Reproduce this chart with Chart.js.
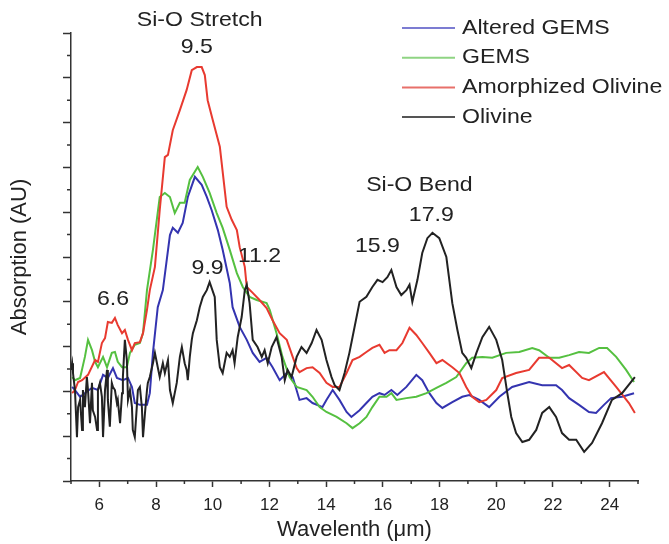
<!DOCTYPE html>
<html>
<head>
<meta charset="utf-8">
<script src="https://cdn.jsdelivr.net/npm/chart.js@4"></script>
<style>
  html, body { margin: 0; padding: 0; background: #fff; }
  #wrap { width: 669px; height: 544px; }
</style>
</head>
<body>
<div id="wrap"><canvas id="myChart" width="669" height="544"></canvas></div>
<script>
// Spectra: [wavelength (um), absorption (AU)]
const alteredGems = [
  [5.04, 2.10], [5.14, 2.03], [5.32, 1.88], [5.49, 1.96], [5.74, 2.08], [5.95, 2.03], [6.13, 2.37],
  [6.30, 2.30], [6.48, 2.52], [6.62, 2.30], [6.83, 2.25], [7.01, 2.30], [7.15, 2.10], [7.25, 1.74],
  [7.43, 1.70], [7.68, 1.70], [7.78, 1.96], [7.89, 2.86], [8.06, 3.88], [8.24, 4.26], [8.49, 5.49],
  [8.59, 5.65], [8.77, 5.54], [8.94, 5.76], [9.12, 6.34], [9.37, 6.79], [9.61, 6.61], [9.79, 6.34],
  [9.96, 6.05], [10.18, 5.60], [10.35, 5.16], [10.60, 4.42], [10.70, 3.88], [10.95, 3.44], [11.20, 3.15],
  [11.41, 2.86], [11.65, 2.66], [11.90, 2.75], [12.11, 2.54], [12.36, 2.25], [12.61, 2.41], [12.82, 2.32],
  [13.06, 1.81], [13.31, 1.85], [13.52, 1.74], [13.87, 1.65], [14.01, 1.81], [14.23, 2.03], [14.47, 1.81],
  [14.72, 1.54], [14.89, 1.43], [15.18, 1.58], [15.42, 1.74], [15.63, 1.88], [15.88, 1.96], [16.06, 1.92],
  [16.30, 2.03], [16.51, 1.92], [16.83, 2.10], [17.18, 2.37], [17.39, 2.25], [17.64, 1.96], [17.89, 1.74],
  [18.10, 1.63], [18.45, 1.76], [18.80, 1.88], [19.05, 1.92], [19.40, 1.81], [19.75, 1.65], [20.11, 1.88],
  [20.56, 2.10], [21.16, 2.21], [21.62, 2.14], [22.11, 2.14], [22.32, 2.03], [22.57, 1.85], [22.92, 1.70],
  [23.27, 1.54], [23.52, 1.52], [23.80, 1.70], [24.05, 1.85], [24.44, 1.88], [24.86, 1.96]
];

const gems = [
  [5.04, 2.32], [5.14, 2.25], [5.32, 2.30], [5.49, 2.77], [5.60, 3.15], [5.74, 2.92], [5.85, 2.66],
  [5.95, 2.54], [6.13, 2.77], [6.27, 2.54], [6.44, 2.86], [6.55, 2.88], [6.65, 2.66], [6.80, 2.54],
  [6.97, 2.54], [7.08, 2.86], [7.25, 3.04], [7.43, 3.08], [7.54, 3.30], [7.68, 4.26], [7.89, 5.16],
  [8.13, 6.34], [8.31, 6.43], [8.49, 6.34], [8.66, 5.98], [8.84, 6.21], [9.01, 6.21], [9.19, 6.72],
  [9.47, 7.01], [9.65, 6.79], [9.89, 6.43], [10.14, 5.98], [10.35, 5.65], [10.60, 5.16], [10.85, 4.64],
  [11.06, 4.33], [11.30, 4.11], [11.55, 4.04], [11.90, 3.97], [12.01, 3.82], [12.25, 3.30], [12.46, 2.77],
  [12.71, 2.32], [12.96, 2.10], [13.31, 2.03], [13.52, 1.88], [13.77, 1.65], [14.01, 1.54], [14.37, 1.43],
  [14.72, 1.29], [14.93, 1.18], [15.18, 1.29], [15.42, 1.43], [15.63, 1.65], [15.88, 1.88], [16.13, 1.88],
  [16.30, 1.96], [16.48, 1.81], [16.83, 1.85], [17.18, 1.88], [17.54, 1.96], [17.89, 2.08], [18.24, 2.19],
  [18.59, 2.32], [18.94, 2.63], [19.15, 2.75], [19.51, 2.77], [19.86, 2.75], [20.35, 2.86], [20.81, 2.88],
  [21.27, 2.97], [21.51, 2.92], [21.87, 2.75], [22.22, 2.75], [22.57, 2.81], [22.92, 2.88], [23.27, 2.86],
  [23.63, 2.97], [23.91, 2.97], [24.23, 2.77], [24.58, 2.48], [24.86, 2.21]
];

const amorphizedOlivine = [
  [5.04, 1.96], [5.14, 2.03], [5.25, 2.21], [5.39, 2.25], [5.60, 2.37], [5.85, 2.70], [5.95, 2.66],
  [6.09, 3.08], [6.20, 3.19], [6.30, 3.55], [6.44, 3.53], [6.55, 3.64], [6.65, 3.48], [6.80, 3.30],
  [6.90, 3.37], [7.01, 3.15], [7.15, 2.92], [7.25, 3.08], [7.43, 3.10], [7.54, 3.30], [7.68, 3.82],
  [7.78, 4.26], [7.96, 4.78], [8.13, 6.05], [8.31, 7.23], [8.42, 7.28], [8.59, 7.83], [8.84, 8.28],
  [9.08, 8.73], [9.26, 9.17], [9.44, 9.24], [9.61, 9.24], [9.72, 9.06], [9.82, 8.50], [10.00, 8.06],
  [10.25, 7.46], [10.49, 6.12], [10.67, 5.83], [10.85, 5.60], [10.95, 5.22], [11.13, 4.78], [11.20, 4.33],
  [11.41, 4.20], [11.65, 4.04], [11.90, 3.86], [12.11, 3.59], [12.36, 3.30], [12.61, 3.15], [12.82, 2.77],
  [12.96, 2.52], [13.06, 2.43], [13.31, 2.52], [13.52, 2.54], [13.77, 2.41], [14.01, 2.19], [14.23, 2.10],
  [14.47, 2.10], [14.72, 2.41], [14.93, 2.70], [15.18, 2.77], [15.42, 2.88], [15.63, 2.97], [15.88, 3.04],
  [16.06, 2.86], [16.23, 2.92], [16.48, 2.92], [16.69, 3.08], [16.94, 3.42], [17.18, 3.26], [17.39, 3.08],
  [17.64, 2.86], [17.89, 2.63], [18.10, 2.70], [18.45, 2.54], [18.70, 2.41], [18.94, 2.10], [19.15, 1.88],
  [19.40, 1.76], [19.65, 1.81], [20.00, 2.03], [20.21, 2.30], [20.70, 2.41], [21.16, 2.48], [21.51, 2.75],
  [21.87, 2.75], [22.32, 2.52], [22.57, 2.59], [23.03, 2.30], [23.27, 2.25], [23.80, 2.43], [24.23, 2.10],
  [24.68, 1.74], [24.89, 1.52]
];

const olivine = [
  [5.00, 2.48], [5.04, 2.63], [5.07, 2.41], [5.14, 2.03], [5.21, 0.98], [5.25, 1.65], [5.32, 1.81],
  [5.39, 1.14], [5.42, 2.03], [5.49, 1.65], [5.56, 2.32], [5.60, 2.03], [5.67, 1.29], [5.74, 2.19],
  [5.77, 1.58], [5.85, 1.43], [5.92, 1.14], [5.95, 2.03], [6.02, 2.19], [6.09, 1.88], [6.13, 0.98],
  [6.20, 2.03], [6.27, 2.48], [6.30, 1.81], [6.37, 1.21], [6.44, 2.19], [6.48, 2.10], [6.55, 2.03],
  [6.62, 1.74], [6.65, 1.81], [6.73, 1.29], [6.80, 1.96], [6.83, 2.32], [6.90, 3.15], [6.97, 2.70],
  [7.01, 1.81], [7.08, 2.03], [7.15, 1.65], [7.18, 1.14], [7.25, 0.98], [7.32, 1.65], [7.36, 2.03],
  [7.43, 2.10], [7.50, 1.65], [7.54, 0.98], [7.61, 1.52], [7.68, 2.03], [7.71, 2.19], [7.78, 2.32],
  [7.89, 2.63], [7.96, 2.86], [8.06, 2.54], [8.13, 2.32], [8.24, 2.63], [8.31, 2.41], [8.42, 2.70],
  [8.49, 2.03], [8.59, 1.74], [8.73, 2.19], [8.84, 2.77], [8.91, 2.99], [9.01, 2.63], [9.08, 2.48],
  [9.12, 2.25], [9.19, 2.77], [9.26, 3.15], [9.30, 3.30], [9.44, 3.59], [9.54, 3.88], [9.65, 4.11],
  [9.79, 4.26], [9.89, 4.44], [10.07, 4.11], [10.14, 3.15], [10.25, 2.54], [10.35, 2.41], [10.49, 2.86],
  [10.60, 2.77], [10.70, 2.92], [10.77, 2.63], [10.88, 3.21], [11.02, 3.66], [11.13, 4.26], [11.20, 4.38],
  [11.30, 3.97], [11.41, 3.15], [11.58, 2.99], [11.73, 2.77], [11.83, 2.92], [11.94, 2.63], [12.08, 2.99],
  [12.25, 3.21], [12.43, 2.77], [12.54, 2.25], [12.64, 2.48], [12.78, 2.32], [12.96, 2.77], [13.13, 2.99],
  [13.31, 2.86], [13.49, 3.08], [13.66, 3.37], [13.84, 3.15], [14.01, 2.70], [14.19, 2.32], [14.30, 2.14],
  [14.47, 2.03], [14.65, 2.41], [14.82, 2.86], [14.93, 3.21], [15.18, 4.00], [15.42, 4.11], [15.63, 4.33],
  [15.81, 4.49], [15.99, 4.44], [16.16, 4.55], [16.30, 4.71], [16.48, 4.33], [16.65, 4.15], [16.83, 4.26],
  [16.94, 4.38], [17.04, 4.00], [17.22, 4.49], [17.39, 5.09], [17.57, 5.42], [17.75, 5.54], [17.99, 5.42],
  [18.24, 5.00], [18.45, 3.97], [18.63, 3.37], [18.80, 2.86], [18.94, 2.75], [19.12, 2.52], [19.30, 2.86],
  [19.51, 3.21], [19.75, 3.44], [20.00, 3.15], [20.21, 2.70], [20.39, 1.96], [20.53, 1.43], [20.70, 1.07],
  [20.92, 0.87], [21.16, 0.92], [21.41, 1.14], [21.62, 1.52], [21.87, 1.65], [22.11, 1.43], [22.32, 1.07],
  [22.57, 0.92], [22.82, 0.92], [23.10, 0.65], [23.38, 0.85], [23.73, 1.29], [24.08, 1.81], [24.44, 1.96],
  [24.89, 2.32]
];

const seriesNames = ['Altered GEMS', 'GEMS', 'Amorphized Olivine', 'Olivine'];
const seriesColors = ['#3434b0', '#55c040', '#e83a30', '#222222'];
const legendColors = ['#7c7cd2', '#8fd483', '#e8706a', '#555555'];

// Peak labels: text, wavelength, absorption
const noteTexts = ['Si-O Stretch', '9.5', '6.6', '9.9', '11.2', 'Si-O Bend', '15.9', '17.9'];
const noteX = [9.54, 9.44, 6.48, 9.82, 11.65, 17.29, 15.81, 17.71];
const noteY = [10.29, 9.69, 4.06, 4.75, 5.02, 6.61, 5.25, 5.94];

const FONT = "'Liberation Sans', Arial, sans-serif";
const INK = '#222';
const AXIS = '#333';
const STRETCH = 1.1; // the figure's lettering is a little wider than plain Arial

const toPoints = arr => arr.map(([x, y]) => ({ x, y }));

// draw text scaled a bit horizontally
function wideText(ctx, text, x, y) {
    ctx.save();
    ctx.translate(x, y);
    ctx.scale(STRETCH, 1);
    ctx.fillText(text, 0, 0);
    ctx.restore();
}

const notesAndLegend = {
    id: 'notesAndLegend',
    afterDraw(chart) {
        const { ctx, scales: { x, y } } = chart;
        ctx.save();

        // minor tick marks
        ctx.strokeStyle = AXIS;
        ctx.lineWidth = 1.5;
        ctx.beginPath();
        for (let v = 5; v <= 25; v += 2) {
            const px = x.getPixelForValue(v);
            ctx.moveTo(px, y.bottom);
            ctx.lineTo(px, y.bottom + 3);
        }
        for (let v = 0.5; v < 10; v += 1) {
            const py = y.getPixelForValue(v);
            ctx.moveTo(x.left - 4, py);
            ctx.lineTo(x.left, py);
        }
        ctx.stroke();

        // peak annotations
        ctx.fillStyle = INK;
        ctx.font = `21px ${FONT}`;
        ctx.textAlign = 'center';
        ctx.textBaseline = 'middle';
        noteTexts.forEach((t, i) => {
            wideText(ctx, t, x.getPixelForValue(noteX[i]), y.getPixelForValue(noteY[i]));
        });

        // legend (top right)
        ctx.textAlign = 'left';
        chart.data.datasets.forEach((ds, i) => {
            const rowY = 28 + i * 29.7;
            ctx.strokeStyle = legendColors[i];
            ctx.lineWidth = 2;
            ctx.beginPath();
            ctx.moveTo(402, rowY);
            ctx.lineTo(455, rowY);
            ctx.stroke();
            ctx.fillStyle = INK;
            wideText(ctx, ds.label, 462, rowY);
        });
        ctx.restore();
    }
};

function createChart() {
    const ctx = document.getElementById('myChart').getContext('2d');
    const allSeries = [alteredGems, gems, amorphizedOlivine, olivine];

    const datasets = allSeries.map((s, i) => ({
        label: seriesNames[i],
        data: toPoints(s),
        borderColor: seriesColors[i],
        backgroundColor: seriesColors[i],
        borderWidth: 2,
        pointRadius: 0,
        showLine: true,
        tension: 0,
        fill: false,
        order: i === 3 ? 0 : 4 - i
    }));

    new Chart(ctx, {
        type: 'scatter',
        data: { datasets },
        options: {
            responsive: false,
            animation: false,
            layout: { padding: { top: 33, right: 31, left: 0, bottom: 0 } },
            plugins: {
                legend: { display: false },
                tooltip: { enabled: false }
            },
            scales: {
                x: {
                    type: 'linear',
                    min: 5,
                    max: 25,
                    afterFit: scale => { scale.height = 63; },
                    border: { color: AXIS, width: 1.5 },
                    grid: {
                        drawOnChartArea: false,
                        drawTicks: true,
                        tickLength: 6,
                        tickWidth: 1.5,
                        tickColor: c => (c.tick && c.tick.value % 2 === 0 ? AXIS : 'rgba(0,0,0,0)')
                    },
                    ticks: {
                        stepSize: 1,
                        autoSkip: false,
                        maxRotation: 0,
                        padding: 8,
                        color: INK,
                        font: { size: 17, family: FONT },
                        callback: v => (v % 2 === 0 ? String(v) : '')
                    },
                    title: {
                        display: true,
                        text: 'Wavelenth (\u03bcm)',
                        color: INK,
                        font: { size: 22, family: FONT },
                        padding: { top: 0, bottom: 1 }
                    }
                },
                y: {
                    min: 0,
                    max: 10,
                    afterFit: scale => { scale.width = 71; },
                    border: { color: AXIS, width: 1.5 },
                    grid: {
                        drawOnChartArea: false,
                        drawTicks: true,
                        tickLength: 8,
                        tickWidth: 1.5,
                        tickColor: AXIS
                    },
                    ticks: {
                        stepSize: 1,
                        color: 'rgba(0,0,0,0)',
                        callback: () => ''
                    },
                    title: {
                        display: true,
                        text: 'Absorption (AU)',
                        color: INK,
                        font: { size: 22, family: FONT },
                        padding: { top: 7, bottom: 0 }
                    }
                }
            }
        },
        plugins: [notesAndLegend]
    });
}

createChart();
</script>
</body>
</html>
